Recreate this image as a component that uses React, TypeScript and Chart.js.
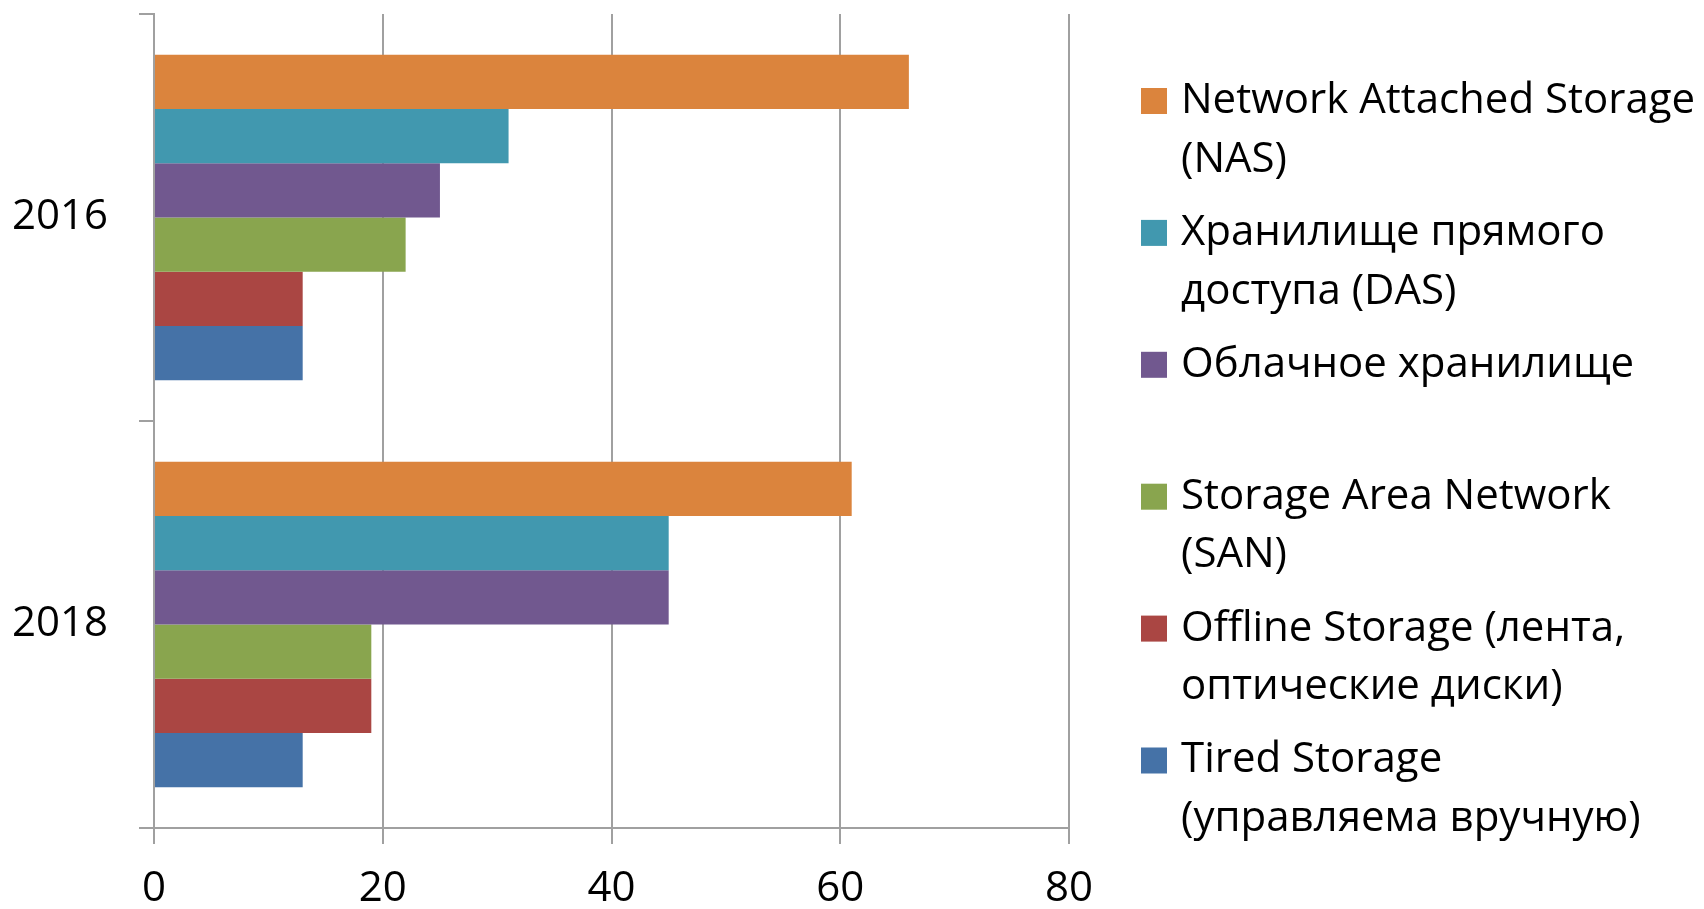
import React, { useEffect, useRef } from "react";
import { Chart, registerables } from "chart.js";

Chart.register(...registerables);

const categories = ["2016", "2018"];

const seriesLines: string[][] = [
  ["Network Attached Storage", "(NAS)"],
  ["Хранилище прямого", "доступа (DAS)"],
  ["Облачное хранилище"],
  ["Storage Area Network", "(SAN)"],
  ["Offline Storage (лента,", "оптические диски)"],
  ["Tired Storage", "(управляема вручную)"],
];

const nasValues = [66, 61];
const dasValues = [31, 45];
const cloudValues = [25, 45];
const sanValues = [22, 19];
const offlineValues = [13, 19];
const tieredValues = [13, 13];

const seriesColors = ["#DB843D", "#4198AF", "#71588F", "#89A54E", "#AA4643", "#4572A7"];

const xTicks = [0, 20, 40, 60, 80];

const FONT = '"Open Sans", "Noto Sans", sans-serif';
const GRID = "#a0a0a0";

const legendPlugin = {
  id: "wrappedLegend",
  afterDraw(chart: any) {
    const ctx = chart.ctx;
    ctx.save();
    ctx.font = `42px ${FONT}`;
    ctx.textBaseline = "middle";
    ctx.textAlign = "left";
    const startY = 101;
    const slot = 131.9;
    const lineGap = 58.7;
    chart.data.datasets.forEach((ds: any, i: number) => {
      const cy = startY + i * slot;
      ctx.fillStyle = ds.backgroundColor;
      ctx.fillRect(1141, cy - 13, 26, 26);
      ctx.fillStyle = "#000";
      (ds.legendLines as string[]).forEach((line: string, j: number) => {
        ctx.fillText(line, 1181, cy + j * lineGap);
      });
    });
    ctx.restore();
  },
};

export default function App() {
  const canvasRef = useRef<HTMLCanvasElement | null>(null);

  useEffect(() => {
    const valueSets = [nasValues, dasValues, cloudValues, sanValues, offlineValues, tieredValues];
    const chart = new Chart(canvasRef.current as HTMLCanvasElement, {
      type: "bar",
      data: {
        labels: categories,
        datasets: valueSets.map((vals, i) => ({
          label: seriesLines[i].join(" "),
          legendLines: seriesLines[i],
          data: vals,
          backgroundColor: seriesColors[i],
          borderWidth: 0,
          categoryPercentage: 0.8,
          barPercentage: 1.0,
        })) as any,
      },
      options: {
        indexAxis: "y",
        animation: false,
        responsive: true,
        maintainAspectRatio: false,
        layout: { padding: { top: 14, right: 635, left: 0, bottom: 0 } },
        plugins: {
          legend: { display: false },
          tooltip: { enabled: false },
        },
        scales: {
          x: {
            min: 0,
            max: 80,
            afterBuildTicks: (scale: any) => {
              scale.ticks = xTicks.map((v) => ({ value: v }));
            },
            afterFit: (scale: any) => {
              scale.height = 81;
            },
            grid: {
              color: GRID,
              lineWidth: 2,
              drawOnChartArea: true,
              drawTicks: true,
              tickLength: 16,
            },
            border: { display: true, color: GRID, width: 2 },
            ticks: {
              color: "#000",
              font: { family: FONT, size: 42 },
              padding: 20,
              maxRotation: 0,
            },
          },
          y: {
            afterFit: (scale: any) => {
              scale.width = 154;
              scale.paddingTop = 0;
              scale.paddingBottom = 0;
            },
            grid: {
              offset: true,
              color: GRID,
              lineWidth: 2,
              drawOnChartArea: false,
              drawTicks: true,
              tickLength: 15,
            },
            border: { display: true, color: GRID, width: 2 },
            ticks: {
              color: "#000",
              font: { family: FONT, size: 42 },
              padding: 31,
            },
          },
        },
      },
      plugins: [legendPlugin],
    });
    return () => chart.destroy();
  }, []);

  return (
    <div style={{ position: "fixed", left: 0, top: 0, width: 1704, height: 909, background: "#fff" }}>
      <canvas ref={canvasRef} />
    </div>
  );
}
